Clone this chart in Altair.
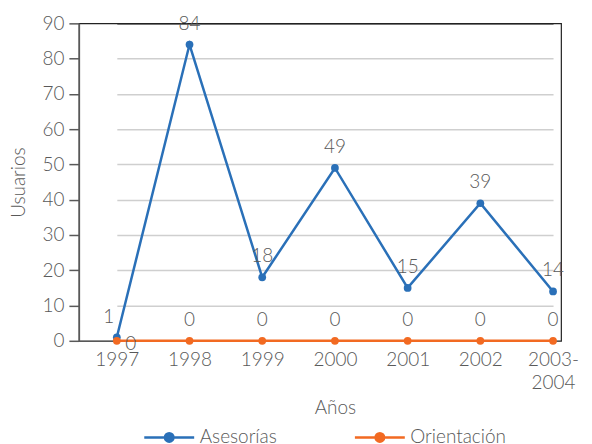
import altair as alt
import pandas as pd

years = ["1997", "1998", "1999", "2000", "2001", "2002", "2003-2004"]
asesorias = [1, 84, 18, 49, 15, 39, 14]
orientacion = [0, 0, 0, 0, 0, 0, 0]
series = ["Asesorías", "Orientación"]
colors = ["#2A70B8", "#F26A22"]

rows = []
for y, a, o in zip(years, asesorias, orientacion):
    rows.append({"Año": y, "Serie": series[0], "Usuarios": a})
    rows.append({"Año": y, "Serie": series[1], "Usuarios": o})
df = pd.DataFrame(rows)

FONT = "Lato"
GREY = "#595959"
FS = 19

legend_path = "M-1,0H1M-0.17,0A0.17,0.17,0,1,0,0.17,0A0.17,0.17,0,1,0,-0.17,0Z"

x = alt.X("Año:O", sort=years, title="Años",
          scale=alt.Scale(type="point", range=[38, 475], padding=0),
          axis=alt.Axis(labelAngle=0, ticks=False, domain=False, labelPadding=10,
                        labelLineHeight=23,
                        labelExpr="datum.value == '2003-2004' ? ['2003-', '2004'] : datum.label",
                        titlePadding=6))
y = alt.Y("Usuarios:Q", title="Usuarios",
          scale=alt.Scale(domain=[0, 90], nice=False),
          axis=alt.Axis(values=list(range(0, 91, 10)), tickSize=10, titlePadding=13,
                        labelPadding=5,
                        gridColor=alt.ConditionalAxisColor(
                            condition={"test": "datum.value == 90", "value": "#222222"},
                            value="#CFCFCF")))
color = alt.Color("Serie:N", sort=series, title=None,
                  scale=alt.Scale(domain=series, range=colors),
                  legend=alt.Legend(orient="none", direction="horizontal",
                                    legendX=64, legendY=388,
                                    symbolType=legend_path, symbolSize=2500,
                                    symbolStrokeWidth=2.5, columnPadding=72,
                                    labelFontSize=FS, labelFont=FONT, labelColor=GREY,
                                    labelFontWeight=300, labelOffset=4))

base = alt.Chart(df).encode(x=x, y=y, color=color)

line = base.mark_line(strokeWidth=2.5)
pts = base.mark_point(filled=True, size=60, opacity=1)

txt_common = dict(fontSize=FS, font=FONT, fill=GREY, fontWeight=300)
labels = alt.Chart(df).mark_text(dy=-21, **txt_common).encode(
    x=x, y=y, text="Usuarios:Q"
).transform_filter("datum['Año'] != '1997'")
lab_a97 = alt.Chart(df).mark_text(dx=-8, dy=-20, **txt_common).encode(
    x=x, y=y, text="Usuarios:Q"
).transform_filter("datum['Año'] == '1997' && datum.Serie == 'Asesorías'")
lab_o97 = alt.Chart(df).mark_text(dx=14, dy=3, **txt_common).encode(
    x=x, y=y, text="Usuarios:Q"
).transform_filter("datum['Año'] == '1997' && datum.Serie == 'Orientación'")

chart = alt.layer(line, pts, labels, lab_a97, lab_o97).properties(
    width=483, height=318, padding={"left": 1, "top": 6, "right": 5, "bottom": 0}
).configure_view(stroke="#222222", strokeWidth=1.2).configure_axis(
    labelFont=FONT, titleFont=FONT, labelFontSize=FS, titleFontSize=FS,
    labelColor=GREY, titleColor=GREY, labelFontWeight=300, titleFontWeight=300,
    domainColor=GREY, tickColor=GREY, domainWidth=1.5, tickWidth=1.5,
    gridWidth=1.5
).configure_axisX(grid=False)

chart.save("out.html", embed_options={"renderer": "svg", "actions": False})
